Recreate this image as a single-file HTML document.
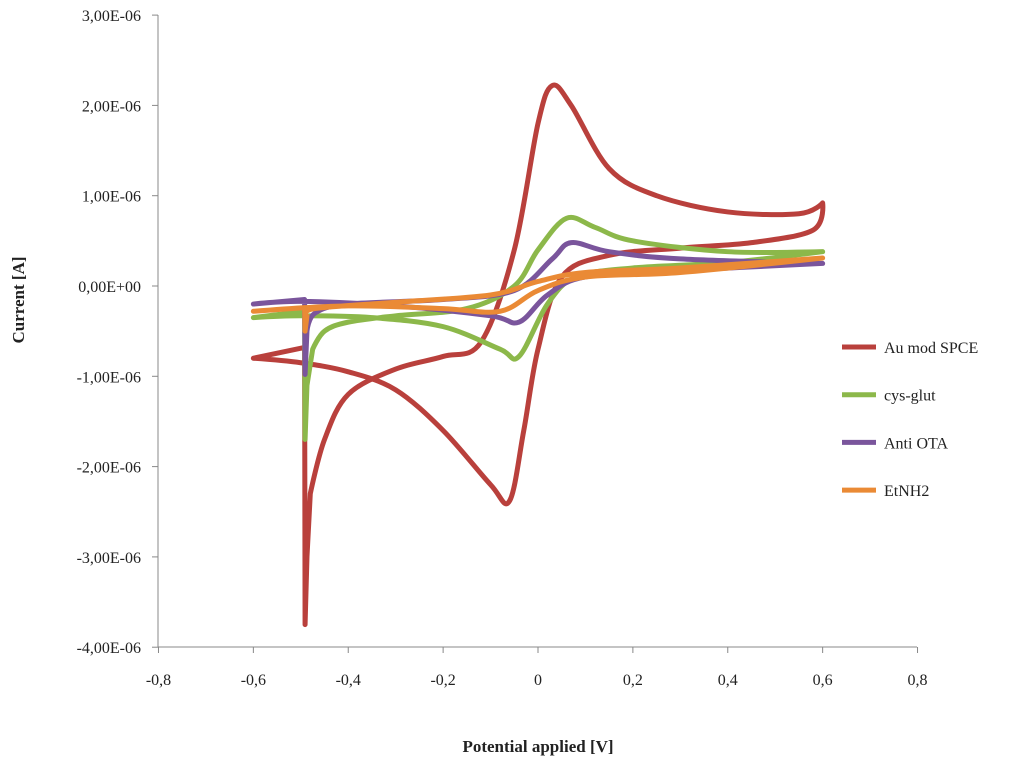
<!DOCTYPE html>
<html><head><meta charset="utf-8"><style>
body{margin:0;background:#fff;}
svg text{font-family:"Liberation Serif",serif;fill:#222;}
</style></head><body>
<svg width="1024" height="766">
<g id="axes"></g><g id="series"></g><g id="legend"></g>
<text x="538" y="752" text-anchor="middle" font-size="17" font-weight="bold">Potential applied [V]</text>
<text transform="translate(24,300) rotate(-90)" text-anchor="middle" font-size="17" font-weight="bold">Current [A]</text>
</svg>
<script>
const xTicks=[-0.8,-0.6,-0.4,-0.2,0,0.2,0.4,0.6,0.8];
const xTickLabels=["-0,8","-0,6","-0,4","-0,2","0","0,2","0,4","0,6","0,8"];
const yTicks=[3,2,1,0,-1,-2,-3,-4];
const yTickLabels=["3,00E-06","2,00E-06","1,00E-06","0,00E+00","-1,00E-06","-2,00E-06","-3,00E-06","-4,00E-06"];
const seriesNames=["Au mod SPCE","cys-glut","Anti OTA","EtNH2"];
const seriesColors=["#b9403c","#8cb84a","#7a559c","#ea8a35"];
const auV=[-0.6,-0.492,-0.491,-0.487,-0.48,-0.45,-0.4,-0.3,-0.2,-0.12,-0.05,0,0.03,0.07,0.15,0.25,0.4,0.55,0.6,0.58,0.45,0.3,0.15,0.05,0,-0.03,-0.06,-0.1,-0.2,-0.3,-0.4,-0.5,-0.6];
const auI=[-0.8,-0.68,-3.75,-3.0,-2.3,-1.7,-1.2,-0.92,-0.78,-0.62,0.4,1.8,2.22,2.0,1.3,1.0,0.82,0.8,0.92,0.62,0.48,0.42,0.34,0.1,-0.7,-1.6,-2.38,-2.2,-1.6,-1.15,-0.95,-0.85,-0.8];
const cgV=[-0.6,-0.492,-0.491,-0.487,-0.475,-0.45,-0.4,-0.3,-0.15,-0.05,0,0.06,0.12,0.2,0.4,0.6,0.4,0.2,0.08,0.02,-0.04,-0.08,-0.2,-0.35,-0.5,-0.6];
const cgI=[-0.35,-0.28,-1.7,-1.1,-0.7,-0.5,-0.4,-0.33,-0.25,0,0.4,0.75,0.65,0.5,0.38,0.38,0.26,0.2,0.1,-0.2,-0.78,-0.7,-0.45,-0.35,-0.33,-0.35];
const aoV=[-0.6,-0.492,-0.491,-0.487,-0.47,-0.4,-0.2,-0.05,0.03,0.07,0.15,0.3,0.6,0.3,0.1,0.02,-0.04,-0.1,-0.3,-0.5,-0.6];
const aoI=[-0.2,-0.15,-0.98,-0.5,-0.3,-0.2,-0.15,-0.05,0.3,0.48,0.38,0.3,0.25,0.17,0.1,-0.1,-0.4,-0.33,-0.22,-0.17,-0.2];
const etV=[-0.6,-0.492,-0.491,-0.487,-0.47,-0.3,-0.1,0,0.1,0.3,0.6,0.3,0.1,0,-0.08,-0.2,-0.4,-0.6];
const etI=[-0.28,-0.24,-0.5,-0.33,-0.25,-0.18,-0.1,0.05,0.15,0.2,0.31,0.15,0.1,-0.05,-0.28,-0.25,-0.22,-0.28];
const xs=v=>538+(v)*474.4;
const ys=i=>286-i*90.3;
const NS="http://www.w3.org/2000/svg";
function mk(t,a,p){const e=document.createElementNS(NS,t);for(const k in a)e.setAttribute(k,a[k]);p.appendChild(e);return e;}
const ax=document.getElementById('axes');
const yl=mk('line',{x1:158,y1:15,x2:158,y2:647,stroke:'#888','stroke-width':1},ax);


const xl=mk('line',{x1:158,y1:647,x2:917,y2:647,stroke:'#888','stroke-width':1},ax);


xTicks.forEach((v,k)=>{mk('line',{x1:xs(v),y1:647,x2:xs(v),y2:653,stroke:'#888'},ax);
const t=mk('text',{x:xs(v),y:685,'text-anchor':'middle','font-size':16},ax);t.textContent=xTickLabels[k];

});
yTicks.forEach((v,k)=>{mk('line',{x1:152,y1:ys(v),x2:158,y2:ys(v),stroke:'#888'},ax);
const t=mk('text',{x:141,y:ys(v)+6,'text-anchor':'end','font-size':16},ax);t.textContent=yTickLabels[k];

});
function tan(P,i){if(i===0||i===P.length-1)return[0,0];
const a=P[i][0]-P[i-1][0],b=P[i+1][0]-P[i][0];if(a*b<=0)return[0,0];
if(Math.abs(a)<8||Math.abs(b)<8)return[0,0];
return[(P[i+1][0]-P[i-1][0])/6,(P[i+1][1]-P[i-1][1])/6];}
function smooth(P){let d=`M${P[0][0]},${P[0][1]}`;for(let i=0;i<P.length-1;i++){const t1=tan(P,i),t2=tan(P,i+1),p1=P[i],p2=P[i+1];
d+=` C${p1[0]+t1[0]},${p1[1]+t1[1]} ${p2[0]-t2[0]},${p2[1]-t2[1]} ${p2[0]},${p2[1]}`;}return d;}
const sg=document.getElementById('series');
const data=[[auV,auI],[cgV,cgI],[aoV,aoI],[etV,etI]];
const names=['series-au-mod-spce','series-cys-glut','series-anti-ota','series-etnh2'];
data.forEach((s,k)=>{const P=s[0].map((v,j)=>[xs(v),ys(s[1][j])]);
const p=mk('path',{d:smooth(P),fill:'none',stroke:seriesColors[k],'stroke-width':5,'stroke-linejoin':'round','stroke-linecap':'round'},sg);

});
const lg=document.getElementById('legend');
seriesNames.forEach((n,k)=>{const y=347+k*47.7;
const l=mk('line',{x1:842,y1:y,x2:876,y2:y,stroke:seriesColors[k],'stroke-width':5},lg);


const t=mk('text',{x:884,y:y+6,'font-size':16},lg);t.textContent=n;

});
</script>
</body></html>
